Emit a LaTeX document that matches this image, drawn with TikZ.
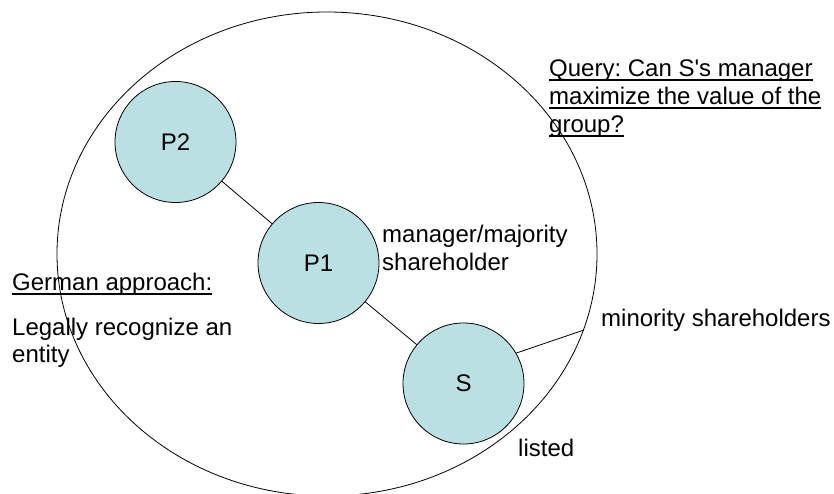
\documentclass[tikz,border=0pt]{standalone}
\usepackage{fontspec}
\setmainfont{Liberation Sans}[Ligatures=TeXOff]
\usetikzlibrary{shapes.geometric}
\definecolor{entfill}{RGB}{187,224,227}
\newcommand{\ulText}[1]{\setbox0=\hbox{#1}\rlap{\rule[-4bp]{\wd0}{1.6bp}}\box0}
\begin{document}
\frenchspacing
\begin{tikzpicture}[x=1bp,y=-1bp,
  entity/.style={circle, draw, fill=entfill, line width=0.8bp, minimum size=121bp, inner sep=0pt, font=\fontsize{24bp}{28bp}\selectfont},
  txt/.style={anchor=base west, inner sep=0pt, font=\frenchspacing\fontsize{24bp}{28bp}\selectfont},
  conn/.style={line width=0.8bp}]
\useasboundingbox (0,0) rectangle (834,494);
\node[draw, ellipse, line width=0.8bp, minimum width=540bp, minimum height=484bp, inner sep=0pt] (grp) at (327,254) {};
\node[entity] (p2) at (175.5,142) {P2};
\node[entity] (p1) at (318.5,263) {P1};
\node[entity] (s) at (463.5,383.5) {S};
\draw[conn] (p2) -- (p1);
\draw[conn] (p1) -- (s);
\coordinate (minend) at (584,330);
\draw[conn] (s.30) -- (minend);
\node[txt] (q1) at (549,77) {\ulText{Query: Can S's manager}};
\node[txt] (q2) at (549,105) {\ulText{maximize the value of the}};
\node[txt] (q3) at (549,133) {\ulText{group?}};
\node[txt] (m1) at (382,243) {manager/majority};
\node[txt] (m2) at (382,271) {shareholder};
\node[txt] (g1) at (12,291) {\ulText{German approach:}};
\node[txt] (l1) at (12,335) {Legally recognize an};
\node[txt] (l2) at (12,362) {entity};
\node[txt] (ms) at (601,327) {minority shareholders};
\node[txt] (ls) at (518,456) {listed};
\end{tikzpicture}
\end{document}
